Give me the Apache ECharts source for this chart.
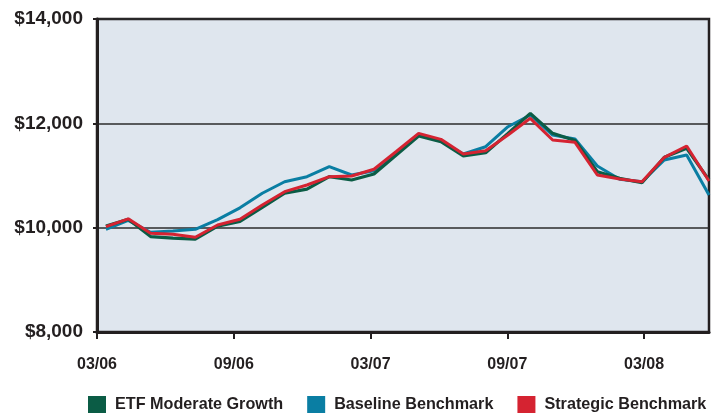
<!DOCTYPE html>
<html>
<head>
<meta charset="utf-8">
<script src="https://cdn.jsdelivr.net/npm/echarts@6/dist/echarts.min.js"></script>
<style>
html,body{margin:0;padding:0;background:#fff;}
#chart{width:711px;height:414px;}
</style>
</head>
<body>
<div id="chart"></div>
<script>
// Month-end data points, 03/06 through 06/08
const months = ['2006-03','2006-04','2006-05','2006-06','2006-07','2006-08','2006-09','2006-10','2006-11','2006-12',
  '2007-01','2007-02','2007-03','2007-04','2007-05','2007-06','2007-07','2007-08','2007-09','2007-10',
  '2007-11','2007-12','2008-01','2008-02','2008-03','2008-04','2008-05','2008-06'];
const etfModerateGrowth = [10030,10160,9830,9800,9780,10030,10120,10390,10660,10740,
  10977,10914,11030,11393,11757,11648,11374,11437,11808,12192,
  11808,11670,11073,10946,10862,11349,11521,10914];
const baselineBenchmark = [9970,10140,9912,9935,9969,10155,10380,10659,10881,10977,
  11169,11010,11092,11431,11776,11661,11412,11552,11935,12160,
  11776,11700,11182,10927,10881,11297,11393,10626];
const strategicBenchmark = [10020,10170,9893,9874,9816,10052,10161,10435,10690,10818,
  10977,10990,11119,11460,11808,11693,11412,11475,11776,12096,
  11680,11636,11010,10933,10881,11349,11565,10895];
const xTickLabels = ['03/06','09/06','03/07','09/07','03/08'];
const yTicks = [8000,10000,12000,14000];

const seriesNames = ['ETF Moderate Growth','Baseline Benchmark','Strategic Benchmark'];
const colors = {green:'#0b5c45', blue:'#0a7ea3', red:'#d52331'};
const dark = '#231f20';
const sansFont = "'Liberation Sans', Arial, 'DejaVu Sans', sans-serif";

function pairs(arr){ return arr.map((v,i)=>[i,v]); }

const chart = echarts.init(document.getElementById('chart'));
chart.setOption({
  animation:false,
  grid:{left:97,right:2,top:19,bottom:82,show:true,backgroundColor:'#dfe6ee',borderColor:dark,borderWidth:2.5},
  legend:{
    data:seriesNames.map(n=>({name:n,icon:'rect'})),
    left:83, top:391, width:680, itemWidth:18, itemHeight:17, itemGap:24,
    textStyle:{fontFamily:sansFont,fontWeight:'bold',fontSize:16.2,color:dark,padding:[0,0,0,4]}
  },
  xAxis:[{
    type:'value', min:0, max:26.85, interval:6, position:'bottom',
    axisLine:{show:true,lineStyle:{color:dark,width:3}},
    axisTick:{show:true,length:7,lineStyle:{color:dark,width:2}},
    splitLine:{show:false},
    axisLabel:{margin:25,fontFamily:sansFont,fontWeight:'bold',fontSize:16,color:dark,
      formatter:v=>xTickLabels[Math.round(v/6)]||'', showMaxLabel:false}
  },{
    type:'value', min:-0.4, max:27, show:false
  }],
  yAxis:{
    type:'value', min:yTicks[0], max:yTicks[yTicks.length-1], interval:2000,
    axisLine:{show:true,lineStyle:{color:dark,width:3}},
    axisTick:{show:true,length:4,lineStyle:{color:dark,width:2}},
    splitLine:{show:true,lineStyle:{color:'#2b2b2b',width:1.5}},
    axisLabel:{margin:14,fontFamily:sansFont,fontWeight:'bold',fontSize:19,color:dark,
      formatter:v=>'$'+v.toLocaleString('en-US')}
  },
  series:[
    {name:seriesNames[1],type:'line',xAxisIndex:1,data:pairs(baselineBenchmark),symbol:'none',
      itemStyle:{color:colors.blue},lineStyle:{color:colors.blue,width:3}},
    {name:seriesNames[0],type:'line',xAxisIndex:1,data:pairs(etfModerateGrowth),symbol:'none',
      itemStyle:{color:colors.green},lineStyle:{color:colors.green,width:3.2}},
    {name:seriesNames[2],type:'line',xAxisIndex:1,data:pairs(strategicBenchmark),symbol:'none',
      itemStyle:{color:colors.red},lineStyle:{color:colors.red,width:3}}
  ]
});
</script>
</body>
</html>
